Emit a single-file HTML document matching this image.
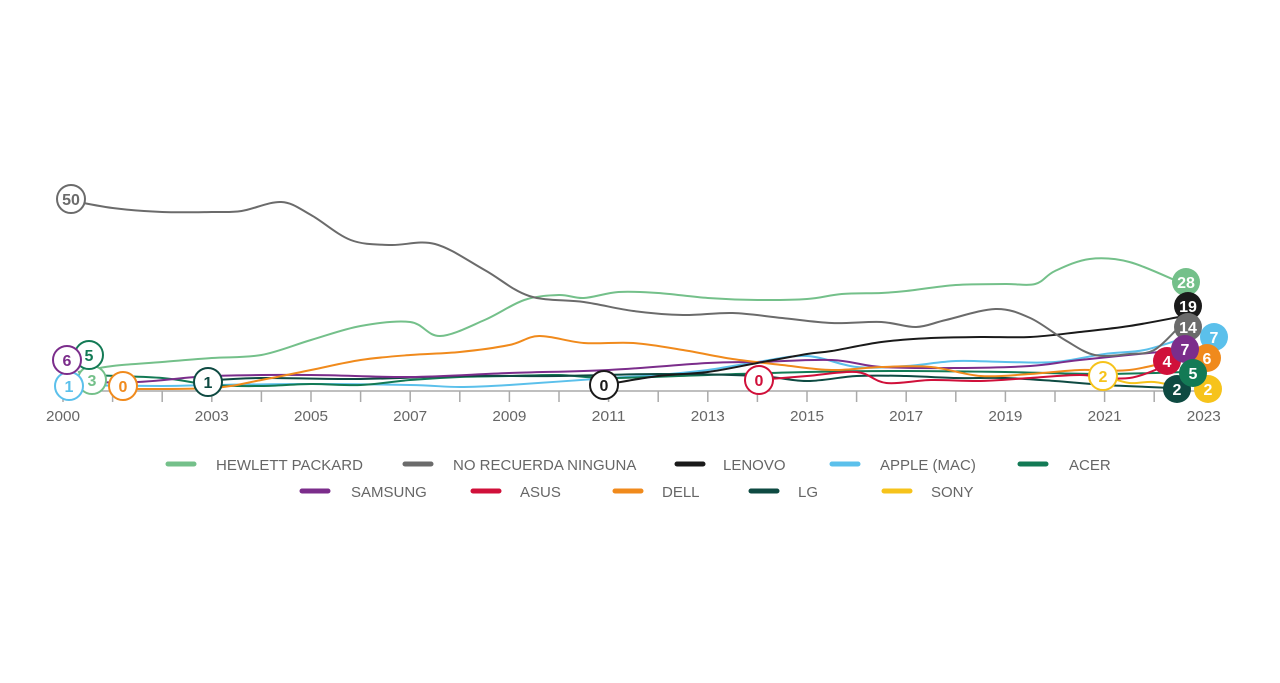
<!DOCTYPE html>
<html><head><meta charset="utf-8"><style>
body{margin:0;background:#fff;width:1280px;height:678px;overflow:hidden}
svg text{font-family:"Liberation Sans",sans-serif}
</style></head><body>
<svg id="s" width="1280" height="678" xmlns="http://www.w3.org/2000/svg"></svg>
<script>
const X=y=>63+49.6*(y-2000);
const S=document.getElementById('s');
let h='';
h+='<line x1="63" y1="391" x2="1204" y2="391" stroke="#aaa" stroke-width="1.5"/>';
for(let y=2000;y<=2023;y++){h+=`<line x1="${X(y)}" y1="391" x2="${X(y)}" y2="402" stroke="#aaa" stroke-width="1.5"/>`;}
[2000,2003,2005,2007,2009,2011,2013,2015,2017,2019,2021,2023].forEach(y=>{h+=`<text x="${X(y)}" y="421" font-size="15" fill="#666" text-anchor="middle" textLength="34" lengthAdjust="spacingAndGlyphs">${y}</text>`;});
function path(pts,c){let p=pts.map(a=>[X(a[0]),a[1]]);let d=`M${p[0][0]},${p[0][1]}`;
for(let i=0;i<p.length-1;i++){const p0=p[i-1]||p[i],p1=p[i],p2=p[i+1],p3=p[i+2]||p2;
d+=` C${p1[0]+(p2[0]-p0[0])/6},${p1[1]+(p2[1]-p0[1])/6} ${p2[0]-(p3[0]-p1[0])/6},${p2[1]-(p3[1]-p1[1])/6} ${p2[0]},${p2[1]}`;}
return `<path d="${d}" fill="none" stroke="${c}" stroke-width="2"/>`;}
const C={hp:'#74c08a',nr:'#6b6b6b',le:'#1a1a1a',ap:'#5bc0eb',ac:'#137a55',sa:'#7b2d8b',as:'#d0103a',de:'#f08a1c',lg:'#0e4a42',so:'#f6c31b'};
h+=path([[2000,385],[2002,386],[2003,385],[2005,384],[2007,385],[2008,387],[2009,385],[2011,378],[2012,375],[2013,370],[2014,362],[2015,356],[2016,367],[2017,366],[2018,361],[2019,362],[2020,362],[2021,354],[2021.8,350],[2022.6,338]],C.ap);
h+=path([[2000.5,375],[2002,378],[2003,385],[2004,386],[2005,384],[2006,385],[2007,380],[2008,377],[2009,376],[2010,375],[2011,378],[2013,375],[2015,372],[2017,371],[2019,372],[2021,374],[2022.6,372]],C.ac);
h+=path([[2002.8,381],[2004,378],[2006,379],[2008,376],[2010,376],[2012,374],[2014,376],[2015,381],[2016,376],[2017,376],[2018,378],[2019,378],[2020,381],[2021,385],[2022.4,388]],C.lg);
h+=path([[2000,382],[2001.5,382],[2003,376],[2005,375],[2007,377],[2009,373],[2011,370],[2013,363],[2014,362],[2015.5,360],[2016.5,367],[2018,368],[2019.5,366],[2020.5,360],[2022.5,350]],C.sa);
h+=path([[2014,380],[2015,376],[2016,372],[2016.6,383],[2017.5,380],[2018.5,381],[2019.5,378],[2020.5,375],[2021.5,378],[2022.4,362]],C.as);
h+=path([[2021,376],[2021.5,383],[2022,382],[2022.6,388]],C.so);
h+=path([[2001.2,389],[2003,388],[2004,380],[2005,370],[2006,360],[2007,355],[2008,352],[2009,345],[2009.6,336],[2010.5,343],[2011.5,343],[2012.5,350],[2013.5,359],[2014.5,365],[2015.5,370],[2016.5,367],[2017.5,367],[2018.5,376],[2019.5,374],[2020.5,370],[2021.5,370],[2022.6,358]],C.de);
h+=path([[2010.9,385],[2012,376],[2013,372],[2014,363],[2015,354],[2015.5,351],[2016.5,342],[2017.5,338],[2018.5,337],[2019.5,337],[2020.5,332],[2021.5,326],[2022.5,317]],C.le);
h+=path([[2000.3,372],[2001,366],[2002,362],[2003,358],[2004,355],[2005,340],[2006,326],[2007,322],[2007.6,336],[2008.5,320],[2009.3,300],[2010,295],[2010.5,298],[2011.2,292],[2012,293],[2013,298],[2014,300],[2015,299],[2015.7,294],[2016.5,293],[2017,291],[2018,285],[2019,284],[2019.6,284],[2020,271],[2020.7,259],[2021.5,262],[2022.5,282]],C.hp);
h+=path([[2000,199],[2001,208],[2002,212],[2003,212],[2003.6,211],[2004.4,202],[2005,215],[2005.8,240],[2006.6,245],[2007.5,244],[2008.5,270],[2009.4,296],[2010.5,302],[2011.5,311],[2012.5,315],[2013.5,313],[2014.5,318],[2015.5,323],[2016.5,322],[2017.2,327],[2017.8,320],[2018.8,309],[2019.5,318],[2020.2,340],[2020.8,355],[2021.5,354],[2022,350],[2022.5,327]],C.nr);
function oc(x,y,t,c,tc){h+=`<circle cx="${x}" cy="${y}" r="14" fill="#fff" stroke="${c}" stroke-width="2"/><text x="${x}" y="${y+6}" font-size="16" font-weight="bold" fill="${tc||c}" text-anchor="middle">${t}</text>`;}
function fc(x,y,t,c){h+=`<circle cx="${x}" cy="${y}" r="14" fill="${c}"/><text x="${x}" y="${y+6}" font-size="16" font-weight="bold" fill="#fff" text-anchor="middle">${t}</text>`;}
oc(71,199,'50',C.nr);oc(92,380,'3',C.hp);oc(69,386,'1',C.ap);oc(89,355,'5',C.ac);oc(67,360,'6',C.sa);oc(123,386,'0',C.de);oc(208,382,'1',C.lg);oc(604,385,'0',C.le);oc(759,380,'0',C.as);oc(1103,376,'2',C.so);
fc(1186,282,'28',C.hp);fc(1214,337,'7',C.ap);fc(1207,358,'6',C.de);fc(1167,361,'4',C.as);fc(1188,306,'19',C.le);fc(1188,327,'14',C.nr);fc(1185,349,'7',C.sa);fc(1177,389,'2',C.lg);fc(1208,389,'2',C.so);fc(1193,373,'5',C.ac);
function lg(x,y,t,c,tx){h+=`<line x1="${x}" y1="${y}" x2="${x+26}" y2="${y}" stroke="${c}" stroke-width="5" stroke-linecap="round"/><text x="${tx}" y="${y+6}" font-size="15" fill="#666">${t}</text>`;}
lg(168,464,'HEWLETT PACKARD',C.hp,216);lg(405,464,'NO RECUERDA NINGUNA',C.nr,453);lg(677,464,'LENOVO',C.le,723);lg(832,464,'APPLE (MAC)',C.ap,880);lg(1020,464,'ACER',C.ac,1069);
lg(302,491,'SAMSUNG',C.sa,351);lg(473,491,'ASUS',C.as,520);lg(615,491,'DELL',C.de,662);lg(751,491,'LG',C.lg,798);lg(884,491,'SONY',C.so,931);
S.innerHTML=h;
</script>
</body></html>
